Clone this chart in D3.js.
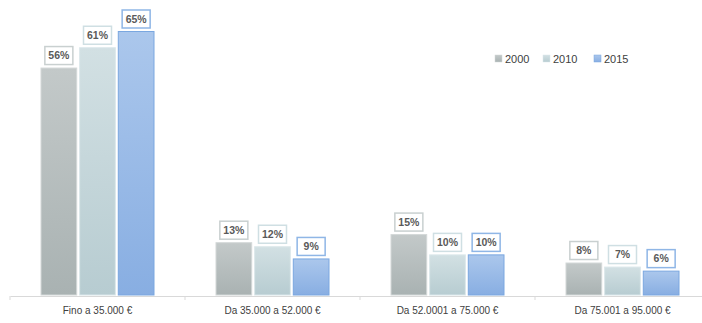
<!DOCTYPE html>
<html>
<head>
<meta charset="utf-8">
<script src="https://cdn.jsdelivr.net/npm/d3@7"></script>
<style>
html,body{margin:0;padding:0;background:#fff;}
svg{display:block;}
text{font-family:"Liberation Sans",Arial,sans-serif;}
</style>
</head>
<body>
<svg id="chart" width="702" height="323"></svg>
<script>
const categories = ["Fino a 35.000 €", "Da 35.000 a 52.000 €", "Da 52.0001 a 75.000 €", "Da 75.001 a 95.000 €"];
const seriesNames = ["2000", "2010", "2015"];
const values2000 = [56, 13, 15, 8];
const values2010 = [61, 12, 10, 7];
const values2015 = [65, 9, 10, 6];
const seriesValues = [values2000, values2010, values2015];
const colorsTop = ["#c3c9c9", "#d2e0e3", "#abc7ec"];
const colorsBottom = ["#a9b2b2", "#b7ccd1", "#88aee2"];
const strokeColors = ["#d3d8d8", "#dbe7ea", "#7aa7e0"];
const labelStroke = ["#c9d0d0", "#cfdfe3", "#8fb6e6"];

const svg = d3.select("#chart");
const W = 702, H = 323;
const margin = {left: 10, right: -8};
const baseY = 295;

const x0 = d3.scaleBand().domain(categories).range([margin.left, W - margin.right]).paddingInner(0).paddingOuter(0);
const groupW = 114;
const x1 = d3.scaleBand().domain(seriesNames)
  .range([(x0.bandwidth() - groupW) / 2, (x0.bandwidth() + groupW) / 2])
  .paddingInner(0.05).paddingOuter(0);
const y = d3.scaleLinear().domain([0, 65]).range([baseY, 31]);

const defs = svg.append("defs");
seriesNames.forEach((s, i) => {
  const g = defs.append("linearGradient").attr("id", "grad" + i).attr("x1", 0).attr("y1", 0).attr("x2", 0).attr("y2", 1);
  g.append("stop").attr("offset", "0%").attr("stop-color", colorsTop[i]);
  g.append("stop").attr("offset", "100%").attr("stop-color", colorsBottom[i]);
});

// axis
const axis = svg.append("g").attr("transform", `translate(0,${baseY + 1})`)
  .call(d3.axisBottom(x0).tickSize(0).tickPadding(11));
axis.select(".domain").attr("stroke", "#d9d9d9").attr("stroke-width", 1.2);
axis.selectAll(".tick text").attr("fill", "#404040").attr("font-size", "10px");
// category separator ticks
const boundaries = categories.map(c => x0(c)).concat([x0(categories[categories.length-1]) + x0.bandwidth()]);
svg.append("g").selectAll("line").data(boundaries).join("line")
  .attr("x1", d => d).attr("x2", d => d)
  .attr("y1", baseY + 1).attr("y2", baseY + 5)
  .attr("stroke", "#d9d9d9").attr("stroke-width", 1);

const groups = svg.append("g").selectAll("g").data(categories).join("g")
  .attr("transform", c => `translate(${x0(c)},0)`);

groups.each(function(c, ci) {
  const g = d3.select(this);
  seriesNames.forEach((s, si) => {
    const v = seriesValues[si][ci];
    const bx = x1(s), bw = x1.bandwidth();
    g.append("rect")
      .attr("x", bx + 0.5).attr("y", y(v) + 0.5)
      .attr("width", bw - 1).attr("height", baseY - y(v) - 0.5)
      .attr("fill", `url(#grad${si})`)
      .attr("stroke", strokeColors[si]).attr("stroke-width", 1);
    const lw = 28, lh = 18;
    const cx = bx + bw / 2;
    g.append("rect")
      .attr("x", cx - lw / 2).attr("y", y(v) - 3 - lh)
      .attr("width", lw).attr("height", lh)
      .attr("fill", "#fff").attr("stroke", labelStroke[si]).attr("stroke-width", 1.5);
    g.append("text")
      .attr("x", cx).attr("y", y(v) - 3 - lh / 2)
      .attr("dy", "0.35em").attr("text-anchor", "middle")
      .attr("fill", "#5a5a5a").attr("font-size", "10.5px").attr("font-weight", "bold")
      .text(v + "%");
  });
});

// legend
const legendX = [495, 543, 594];
const legend = svg.append("g").selectAll("g").data(seriesNames).join("g")
  .attr("transform", (d, i) => `translate(${legendX[i]},55)`);
legend.append("rect").attr("width", 7).attr("height", 7)
  .attr("fill", (d, i) => `url(#grad${i})`)
  .attr("stroke", (d, i) => strokeColors[i]).attr("stroke-width", 0.5);
legend.append("text").attr("x", 10).attr("y", 4).attr("dy", "0.35em")
  .attr("fill", "#404040").attr("font-size", "11px").text(d => d);
</script>
</body>
</html>
